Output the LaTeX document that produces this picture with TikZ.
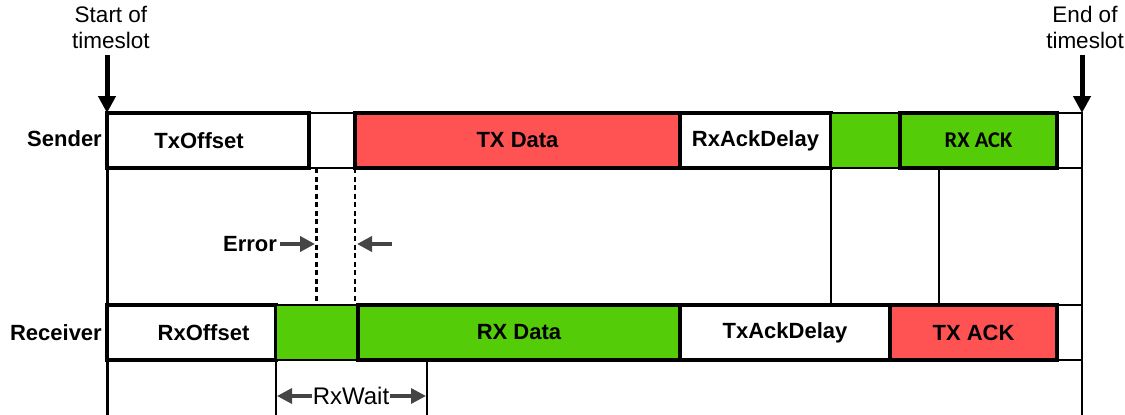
\documentclass[tikz,border=0pt]{standalone}
\usepackage{fontspec}
\setmainfont{Liberation Sans}
\newfontfamily\calfont{Carlito}
\usetikzlibrary{arrows.meta}
\definecolor{txred}{HTML}{FF5353}
\definecolor{rxgreen}{HTML}{55CC08}
\definecolor{arrgray}{HTML}{454545}
\begin{document}
\begin{tikzpicture}[x=1pt,y=-1pt,
  every node/.style={font=\fontsize{22}{26}\selectfont},
  frame/.style={draw, line width=1.6pt, minimum height=55pt, inner sep=0pt, outer sep=0pt, anchor=north west},
  slot/.style={frame, line width=4pt, font=\fontsize{22}{26}\selectfont\bfseries},
  soft/.style={frame, fill=rxgreen},
  rowlbl/.style={anchor=east, inner sep=0pt, font=\fontsize{22}{26}\selectfont\bfseries},
  marklbl/.style={align=center, inner sep=0pt, font=\fontsize{22.5}{26}\selectfont},
  slotarrow/.style={line width=5pt, -{Triangle[length=17pt,width=17pt]}},
  gapline/.style={dashed, dash pattern=on 5pt off 3.5pt},
  headg/.tip={Triangle[length=15pt,width=15pt]},
  grayarrow/.style={draw=arrgray, line width=3.8pt, -headg},
  rail/.style={line width=3pt},
  thinrail/.style={line width=1.8pt}]
\useasboundingbox (0,0) rectangle (1125,415);

% row frames
\node[frame, minimum width=975pt] (sframe) at (107,113) {};
\node[frame, minimum width=975pt] (rframe) at (107,305) {};

% sender slots
\node[slot, minimum width=202pt] (txoff) at (107,113) {TxOffset\hspace*{18pt}};
\node[slot, fill=txred, minimum width=325pt] (txdata) at (355,113) {\raisebox{-3pt}{TX Data}};
\node[slot, minimum width=151pt] (rxackdelay) at (680,113) {RxAckDelay};
\node[soft, minimum width=69pt] (sgreen) at (831,113) {};
\node[slot, fill=rxgreen, minimum width=157pt] (rxack) at (900,113) {\calfont\bfseries\fontsize{22.5}{26}\selectfont RX ACK};

% receiver slots
\node[slot, minimum width=169pt] (rxoff) at (107,305) {\hspace*{24pt}\raisebox{-3pt}{RxOffset}};
\node[soft, minimum width=82pt] (rxwin) at (276,305) {};
\node[slot, fill=rxgreen, minimum width=322pt] (rxdata) at (358,305) {RX Data};
\node[slot, minimum width=210pt] (txackdelay) at (680,305) {TxAckDelay};
\node[slot, fill=txred, minimum width=167pt] (txack) at (890,305) {\raisebox{-2pt}{TX ACK}};

% row labels
\node[rowlbl] (sender) at (102,139) {Sender};
\node[rowlbl] (receiver) at (102,333) {Receiver};

% timeslot boundaries
\node[marklbl] (start) at (111,27) {Start of\\timeslot};
\node[marklbl] (end) at (1085,27) {End of\\timeslot};
\coordinate (startTop) at (107,55);
\coordinate (endTop) at (1082,55);
\coordinate (leftBottom) at (107,415);
\coordinate (rightBottom) at (1082,415);
\draw[rail] (sframe.north west) -- (leftBottom);
\draw[thinrail] (sframe.north east) -- (rightBottom);
\draw[slotarrow] (startTop) -- (sframe.north west);
\draw[slotarrow] (endTop) -- (sframe.north east);

% links between sender and receiver
\draw[thinrail] (rxackdelay.south east) -- (rxackdelay.south east |- rframe.north);
\coordinate (ackS) at (939,168);
\coordinate (ackR) at (939,305);
\draw[thinrail] (ackS) -- (ackR);

% guard error
\coordinate (errS) at (316,168);
\coordinate (errR) at (316,305);
\draw[line width=3pt, gapline] (errS) -- (errR);
\draw[line width=1.8pt, gapline] (txdata.south west) -- (txdata.south west |- rframe.north);
\node[inner sep=0pt, font=\fontsize{22}{26}\selectfont\bfseries] (error) at (250,244) {Error};
\coordinate (errL) at (315,244);
\coordinate (errRt) at (357,244);
\coordinate (errFar) at (392,244);
\draw[grayarrow] (error.east) ++(3,0) -- (errL);
\draw[grayarrow] (errFar) -- (errRt);

% receive wait window
\coordinate (waitL) at (276,415);
\coordinate (waitR) at (427,415);
\coordinate (waitMidL) at (277,396);
\coordinate (waitMidR) at (426,396);
\draw[thinrail] (rxwin.south west) -- (waitL);
\draw[thinrail] (rxwin.south west -| waitR) -- (waitR);
\draw[draw=arrgray, line width=3.3pt, headg-headg] (waitMidL) -- (waitMidR);
\node[fill=white, inner sep=1pt, font=\fontsize{24}{28}\selectfont] (rxwait) at (351,396) {RxWait};
\end{tikzpicture}
\end{document}
